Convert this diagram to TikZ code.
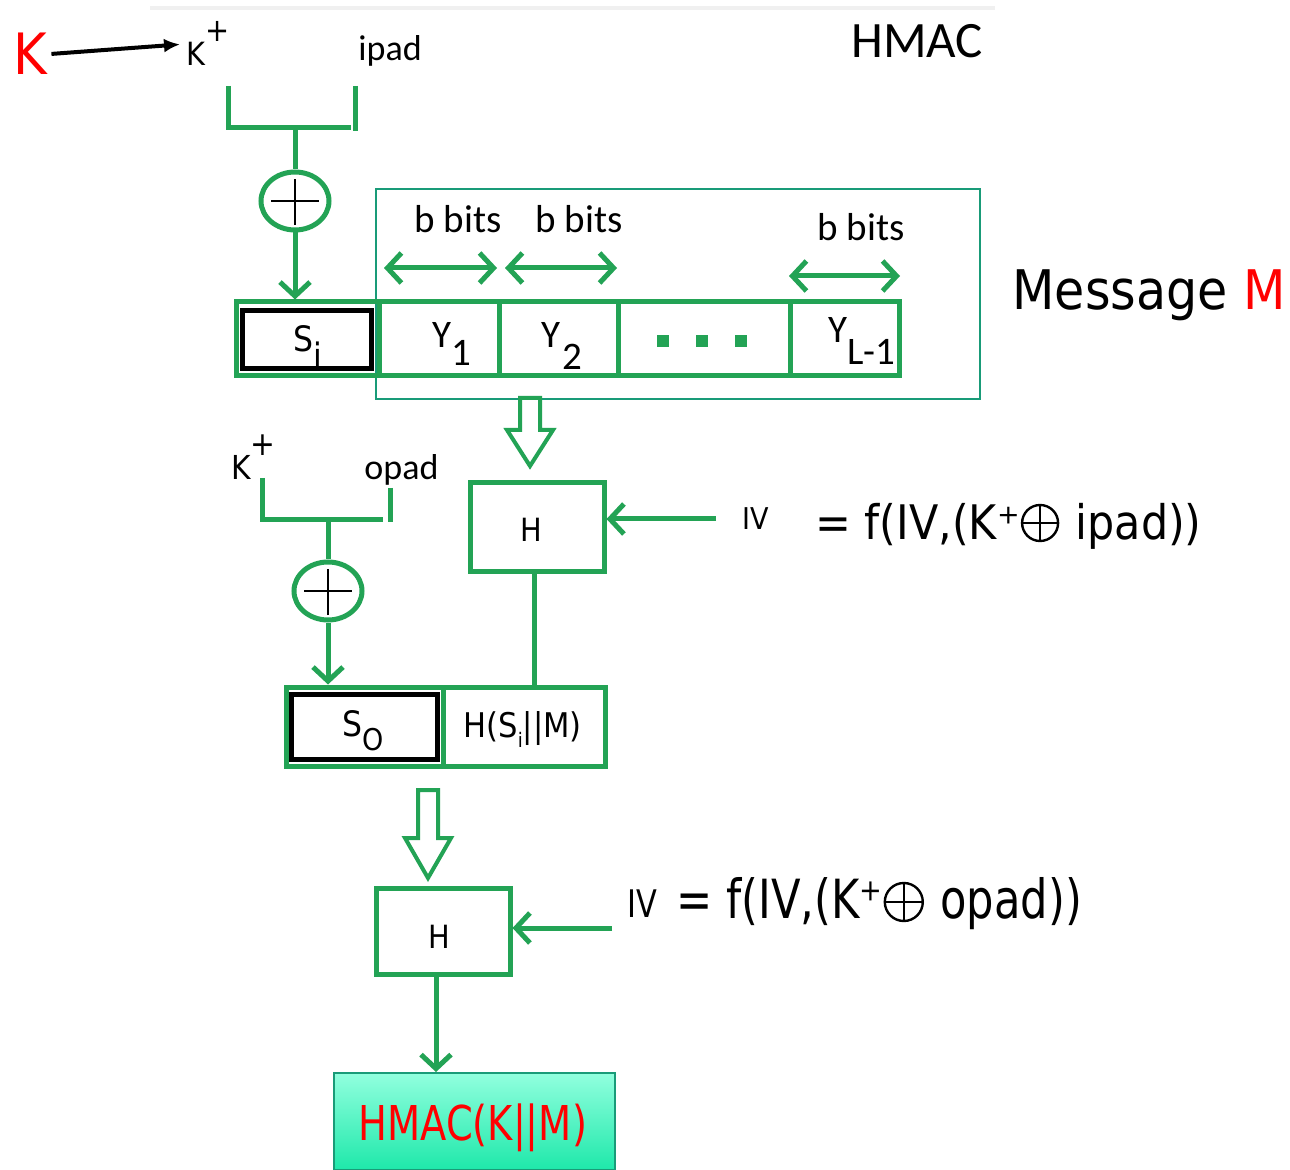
\documentclass[tikz,border=0pt]{standalone}
\usepackage{graphicx}
\usepackage{fontspec}
\setmainfont{DejaVu Sans}
\newfontfamily\tah[FakeStretch=0.9]{DejaVu Sans}
\newfontfamily\nar[FakeStretch=0.8]{DejaVu Sans}
\newfontfamily\calfont{Carlito}
\usetikzlibrary{arrows.meta,shapes.geometric,calc}
\definecolor{gr}{RGB}{35,163,85}
\definecolor{teal1}{RGB}{25,155,120}
\definecolor{mint1}{RGB}{145,255,222}
\definecolor{mint2}{RGB}{30,232,170}
\tikzset{gbarb/.tip={Straight Barb[length=7pt,width=15pt]}}
\newcommand\hollowarrow[4]{\draw[hollow] (#1-10,#2) -- (#1+10,#2) -- (#1+10,#3) -- (#1+23,#3) -- (#1,#4) -- (#1-23,#3) -- (#1-10,#3) -- cycle;}
\begin{document}
\begin{tikzpicture}[x=0.5pt,y=-0.5pt,
  gline/.style={draw=gr,line width=2.5pt},
  garrow/.style={gline,-gbarb},
  dblarrow/.style={gline,gbarb-gbarb},
  cell/.style={draw=gr,line width=2.5pt,inner sep=0pt,minimum height=37pt},
  blkbox/.style={draw=black,line width=2.5pt,inner sep=0pt},
  hbox/.style={draw=gr,line width=2.5pt,inner sep=0pt,minimum width=67pt},
  xor/.style={ellipse,draw=gr,line width=2.5pt,minimum width=34pt,minimum height=29pt,inner sep=0pt},
  txt/.style={inner sep=0pt,anchor=base west},
  oplus/.style={circle,draw=black,line width=1.2pt,inner sep=0pt},
  hollow/.style={draw=gr,line width=2pt,fill=white,line join=miter},
  pluss/.style={draw=black,line width=0.6pt}]
\useasboundingbox (0,0) rectangle (1290,1170);
\fill[white] (0,0) rectangle (1290,1170);
\draw[black!6,line width=2pt] (150,8) -- (995,8);

% top key inputs
\node[txt,font=\tah\fontsize{28.5}{28.5}\selectfont,text=red] (kred) at (13,75) {K};
\node[txt,font=\tah\fontsize{16}{16}\selectfont] (kp1) at (186,66) {K\raisebox{0.75em}{+}};
\draw[black,line width=2pt,-{Latex[length=8pt,width=7pt]},shorten <=2pt,shorten >=3pt] (kred.east) -- (kp1.west);
\node[txt,font=\calfont\fontsize{18}{18}\selectfont] (ipad) at (358,61) {ipad};
\node[txt,font=\calfont\fontsize{25.5}{25.5}\selectfont] (title) at (851,58) {HMAC};

% first bracket and xor
\node[xor] (xor1) at (295,201) {};
\draw[pluss] ([xshift=-12pt]xor1.center) -- ([xshift=12pt]xor1.center);
\draw[pluss] ([yshift=-12pt]xor1.center) -- ([yshift=11pt]xor1.center);
\coordinate (b1a) at (228,86);
\coordinate (b1b) at (228,128);
\coordinate (b1c) at (351,128);
\coordinate (b1d) at (355,86);
\coordinate (b1e) at (355,131);
\coordinate (b1m) at (295,128);
\draw[gline] (b1a) -- (b1b) -- (b1c);
\draw[gline] (b1d) -- (b1e);
\draw[gline] (b1m) -- (xor1.north);

% message box
\node[draw=teal1,line width=1pt,minimum width=302pt,minimum height=105pt,inner sep=0pt] (msg) at (678,294) {};
\node[txt,font=\tah\fontsize{27.3}{27.3}\selectfont] (mm) at (1012,310) {Message \textcolor{red}{M}};

% row of blocks
\node[cell,minimum width=71.5pt] (siout) at (307.5,339) {};
\node[cell,minimum width=60pt] (y1) at (439,339) {};
\node[cell,minimum width=59.5pt] (y2) at (558.5,339) {};
\node[cell,minimum width=86pt] (dots) at (704,339) {};
\node[cell,minimum width=54.5pt] (yl) at (844.5,339) {};
\node[blkbox,minimum width=64.5pt,minimum height=29pt] (si) at (307,340) {};
\draw[garrow] (xor1.south) -- (xor1.south |- siout.north);
\node[txt,font=\tah\fontsize{17.5}{17.5}\selectfont] (sit) at (293,352) {S\raisebox{-0.47em}{i}};
\node[txt,font=\calfont\fontsize{19.5}{19.5}\selectfont] (y1t) at (432,348) {Y\raisebox{-0.45em}{1}};
\node[txt,font=\calfont\fontsize{19.5}{19.5}\selectfont] (y2t) at (541,348) {Y\hspace{1pt}\raisebox{-0.55em}{2}};
\node[txt,font=\calfont\fontsize{19.5}{19.5}\selectfont] (ylt) at (828,343) {Y\raisebox{-0.56em}{L-1}};
\fill[gr] (657,335) rectangle (669,347);
\fill[gr] (696,335) rectangle (708,347);
\fill[gr] (735,335) rectangle (747,347);

% b bits
\node[txt,font=\calfont\fontsize{19.5}{19.5}\selectfont] (bb1) at (414,233) {b bits};
\node[txt,font=\calfont\fontsize{19.5}{19.5}\selectfont] (bb2) at (535,233) {b bits};
\node[txt,font=\calfont\fontsize{19.5}{19.5}\selectfont] (bb3) at (817,241) {b bits};
\coordinate (d1a) at (384,268);
\coordinate (d1b) at (497,268);
\coordinate (d2a) at (505,268);
\coordinate (d2b) at (617,268);
\coordinate (d3a) at (789,276);
\coordinate (d3b) at (900,276);
\draw[dblarrow] (d1a) -- (d1b);
\draw[dblarrow] (d2a) -- (d2b);
\draw[dblarrow] (d3a) -- (d3b);

% first hash
\hollowarrow{530}{398}{430}{466}
\node[hbox,minimum height=44.5pt] (h1) at (537,527.5) {};
\node[txt,font=\tah\fontsize{16}{16}\selectfont] (h1t) at (520,542) {H};
\coordinate (iv1) at (716,519);
\draw[garrow] (iv1) -- (iv1 -| h1.east);
\node[txt,font=\tah\fontsize{15}{15}\selectfont] (iv1t) at (742,530) {IV};
\node[txt,font=\tah\fontsize{23.8}{23.8}\selectfont] (f1a) at (815,540) {= f(IV,(K⁺};
\node[oplus,minimum size=18pt] (op1) at ([xshift=10pt,yshift=8.5pt]f1a.base east) {};
\draw[black,line width=1.2pt] (op1.north) -- (op1.south) (op1.west) -- (op1.east);
\path (op1.east |- f1a.base) coordinate (f1bpos);
\node[txt,font=\tah\fontsize{23.8}{23.8}\selectfont] (f1b) at ([xshift=8pt]f1bpos) {ipad))};

% second bracket and xor
\node[txt,font=\tah\fontsize{16.5}{16.5}\selectfont] (kp2) at (231,480) {K\raisebox{0.75em}{+}};
\node[txt,font=\calfont\fontsize{18}{18}\selectfont] (opad) at (364,480) {opad};
\node[xor] (xor2) at (328,591) {};
\draw[pluss] ([xshift=-12pt]xor2.center) -- ([xshift=12pt]xor2.center);
\draw[pluss] ([yshift=-12pt]xor2.center) -- ([yshift=11pt]xor2.center);
\coordinate (b2a) at (262,478);
\coordinate (b2b) at (262,520);
\coordinate (b2c) at (383,520);
\coordinate (b2d) at (390,488);
\coordinate (b2e) at (390,522);
\coordinate (b2m) at (328,520);
\draw[gline] (b2a) -- (b2b) -- (b2c);
\draw[gline] (b2d) -- (b2e);
\draw[gline] (b2m) -- (xor2.north);

% second row
\node[cell,minimum width=78.5pt,minimum height=39.5pt] (socell) at (364.5,726.5) {};
\node[cell,minimum width=81pt,minimum height=39.5pt] (hsm) at (524,726.5) {};
\node[blkbox,minimum width=73pt,minimum height=32.5pt] (so) at (364.5,727) {};
\draw[garrow] (xor2.south) -- (xor2.south |- socell.north);
\draw[gline] ([xshift=-1.5pt]h1.south) -- ([xshift=-1.5pt]h1.south |- hsm.north);
\node[txt,font=\tah\fontsize{17.5}{17.5}\selectfont] (sot) at (342,736) {S\raisebox{-0.4em}{\fontsize{15}{15}\selectfont O}};
\node[txt,font=\tah\fontsize{17}{17}\selectfont] (hsmt) at (463,737) {H(S\raisebox{-0.3em}{\fontsize{10}{10}\selectfont i}||M)};

% second hash
\hollowarrow{428}{790}{838}{878}
\node[hbox,minimum height=43pt] (h2) at (443,931) {};
\node[txt,font=\tah\fontsize{16}{16}\selectfont] (h2t) at (428,948) {H};
\coordinate (iv2) at (612,928);
\draw[garrow] (iv2) -- (iv2 -| h2.east);
\node[txt,font=\nar\fontsize{19}{19}\selectfont] (iv2t) at (627,917) {IV};
\node[txt,font=\nar\fontsize{27}{27}\selectfont] (f2a) at (676,918) {= f(IV,(K⁺};
\node[oplus,minimum size=19pt] (op2) at ([xshift=10.5pt,yshift=8pt]f2a.base east) {};
\draw[black,line width=1.2pt] (op2.north) -- (op2.south) (op2.west) -- (op2.east);
\path (op2.east |- f2a.base) coordinate (f2bpos);
\node[txt,font=\nar\fontsize{27}{27}\selectfont] (f2b) at ([xshift=8pt]f2bpos) {opad))};

% output
\node[draw=teal1,line width=1pt,top color=mint1,bottom color=mint2,minimum width=140.5pt,minimum height=48.5pt,inner sep=0pt] (hm) at (474.5,1121.5) {};
\draw[garrow] ([xshift=-3.5pt]h2.south) -- ([xshift=-3.5pt]h2.south |- hm.north);
\node[txt,font=\nar\fontsize{24}{24}\selectfont,text=red] (hmt) at (358,1140) {HMAC(K||M)};
\end{tikzpicture}
\end{document}
